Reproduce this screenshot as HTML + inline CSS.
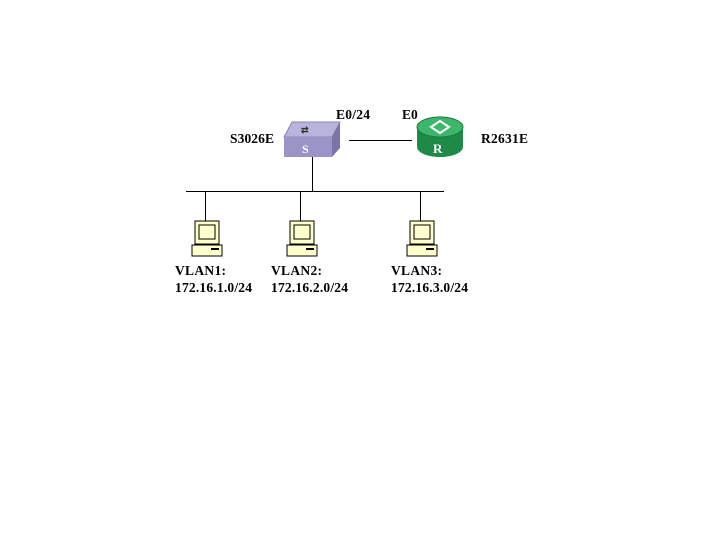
<!DOCTYPE html>
<html><head><style>
body{margin:0;background:#fff}
svg text{font-family:"Liberation Serif",serif;font-weight:bold;font-size:13.5px;fill:#000}
</style></head><body>
<svg width="720" height="540" xmlns="http://www.w3.org/2000/svg">
<rect width="720" height="540" fill="#fff"/>
<line x1="349" y1="140.5" x2="412" y2="140.5" stroke="#000"/>
<line x1="312.5" y1="157" x2="312.5" y2="191" stroke="#000"/>
<line x1="186" y1="191.5" x2="444" y2="191.5" stroke="#000"/>
<line x1="205.5" y1="191" x2="205.5" y2="221" stroke="#000"/>
<line x1="300.5" y1="191" x2="300.5" y2="221" stroke="#000"/>
<line x1="420.5" y1="191" x2="420.5" y2="221" stroke="#000"/>
<polygon points="284,137 292,122 340,122 332,137" fill="#b8b4dc" stroke="#8a84b8"/>
<polygon points="332,137 340,122 340,148 332,157" fill="#7a74a8"/>
<rect x="284" y="137" width="48" height="20" fill="#9a94c8"/>
<text x="301" y="133" style="font-size:9px;fill:#333">⇄</text>
<text x="302" y="153" style="font-size:12px;fill:#fff">S</text>
<path d="M417,127 v20 a23,10 0 0 0 46,0 v-20 z" fill="#1f8a47"/>
<ellipse cx="440" cy="127" rx="23" ry="10" fill="#3cb66a" stroke="#1a7a3c"/>
<polygon points="440,121 449,127 440,133 431,127" fill="none" stroke="#fff" stroke-width="2"/>
<text x="433" y="153" style="font-size:13px;fill:#fff">R</text>
<g id="pc">
<rect x="195" y="221" width="24" height="23" fill="#ffffcc" stroke="#000"/>
<rect x="199" y="225" width="16" height="14" fill="#ffffcc" stroke="#000"/>
<rect x="192" y="245" width="30" height="11" fill="#ffffcc" stroke="#000"/>
<rect x="211" y="248" width="8" height="2" fill="#000"/>
</g>
<use href="#pc" x="95"/>
<use href="#pc" x="215"/>
<text x="230" y="143" textLength="44">S3026E</text>
<text x="336" y="119" textLength="34">E0/24</text>
<text x="402" y="119">E0</text>
<text x="481" y="143" textLength="47">R2631E</text>
<text x="175" y="275" textLength="51">VLAN1:</text>
<text x="175" y="292" textLength="77">172.16.1.0/24</text>
<text x="271" y="275" textLength="51">VLAN2:</text>
<text x="271" y="292" textLength="77">172.16.2.0/24</text>
<text x="391" y="275" textLength="51">VLAN3:</text>
<text x="391" y="292" textLength="77">172.16.3.0/24</text>
</svg>
</body></html>
